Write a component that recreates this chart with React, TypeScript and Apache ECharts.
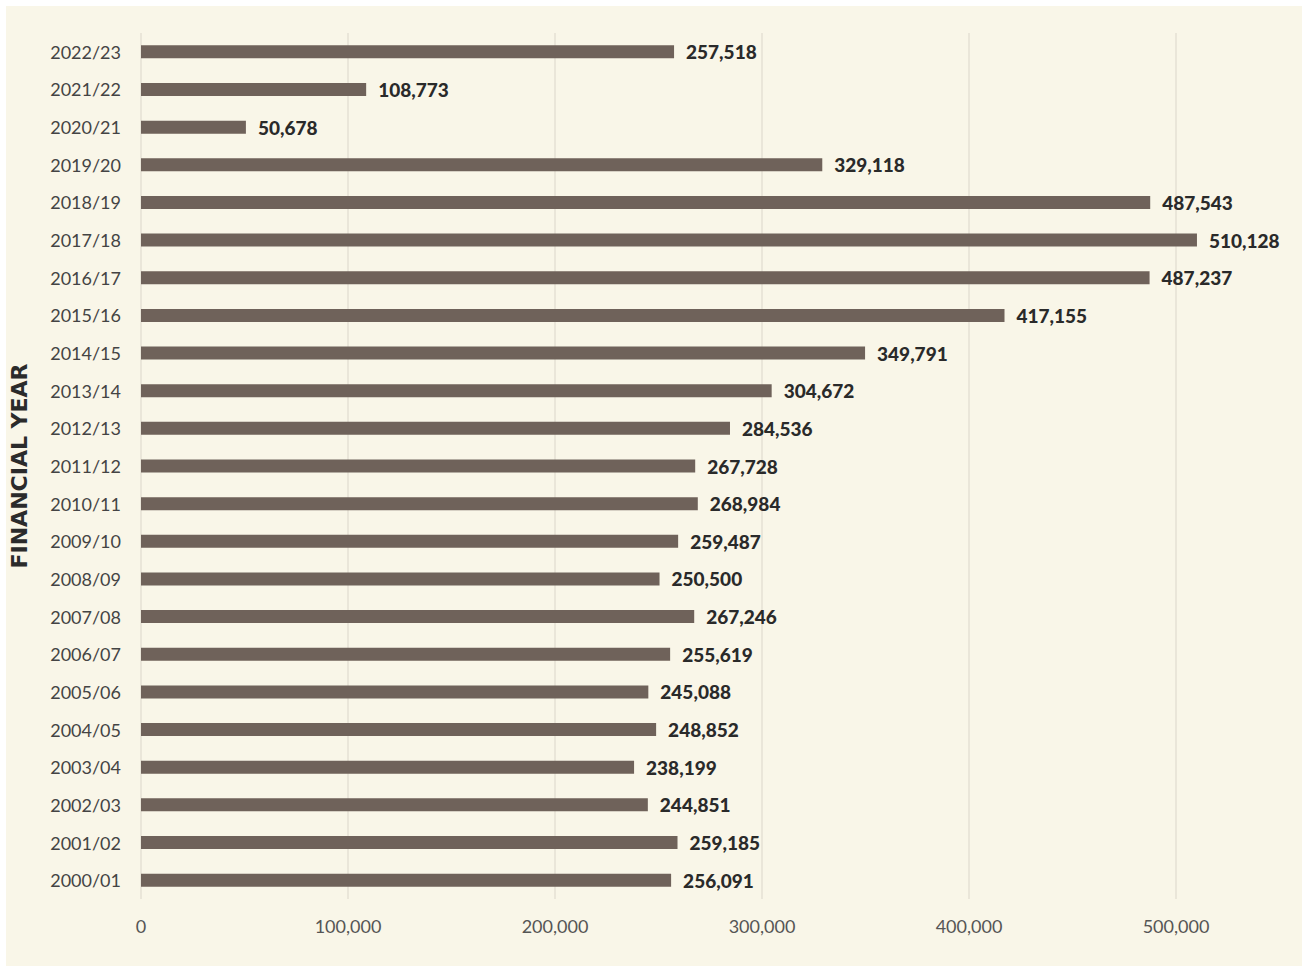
import React, { useEffect, useRef } from "react";
import * as echarts from "echarts";

const categories = [
  "2000/01", "2001/02", "2002/03", "2003/04", "2004/05", "2005/06", "2006/07", "2007/08",
  "2008/09", "2009/10", "2010/11", "2011/12", "2012/13", "2013/14", "2014/15", "2015/16",
  "2016/17", "2017/18", "2018/19", "2019/20", "2020/21", "2021/22", "2022/23",
];
const values = [
  256091, 259185, 244851, 238199, 248852, 245088, 255619, 267246,
  250500, 259487, 268984, 267728, 284536, 304672, 349791, 417155,
  487237, 510128, 487543, 329118, 50678, 108773, 257518,
];
const xTicks = [0, 100000, 200000, 300000, 400000, 500000];

export default function App() {
  const ref = useRef<HTMLDivElement>(null);
  useEffect(() => {
    if (!ref.current) return;
    const chart = echarts.init(ref.current, null, { renderer: "svg" });
    chart.setOption({
      animation: false,
      backgroundColor: "#f9f6e8",
      grid: { left: 135, right: 126, top: 27, bottom: 67, containLabel: false, outerBoundsMode: "none" },
      xAxis: {
        type: "value",
        min: xTicks[0],
        max: xTicks[xTicks.length - 1],
        interval: 100000,
        axisLine: { show: false },
        axisTick: { show: false },
        splitLine: { show: true, lineStyle: { color: "#e4e1d4", width: 1.5 } },
        axisLabel: {
          margin: 18,
          color: "#555555",
          fontSize: 18,
          fontFamily: "Lato",
          formatter: (v: number) => v.toLocaleString("en-US"),
        },
      },
      yAxis: {
        type: "category",
        data: categories,
        axisLine: { show: false },
        axisTick: { show: false },
        axisLabel: { margin: 20, color: "#444444", fontSize: 18, fontFamily: "Lato" },
        name: "FINANCIAL YEAR",
        nameLocation: "middle",
        nameRotate: 90,
        nameGap: 111,
        nameTextStyle: { fontSize: 22, fontWeight: "bold", color: "#2b2b2b", fontFamily: "DejaVu Sans" },
      },
      series: [
        {
          type: "bar",
          data: values,
          barWidth: 13,
          clip: false,
          itemStyle: { color: "#6f625a" },
          label: {
            show: true,
            position: "right",
            distance: 12,
            color: "#2a2a2a",
            fontSize: 19,
            fontWeight: 900,
            fontFamily: "Lato",
            formatter: (p: any) => Number(p.value).toLocaleString("en-US"),
          },
        },
      ],
    });
    return () => chart.dispose();
  }, []);
  return (
    <div style={{ position: "fixed", left: 0, top: 0, width: 1308, height: 967, background: "#ffffff" }}>
      <div ref={ref} style={{ position: "absolute", left: 6, top: 6, width: 1296, height: 960 }} />
    </div>
  );
}
